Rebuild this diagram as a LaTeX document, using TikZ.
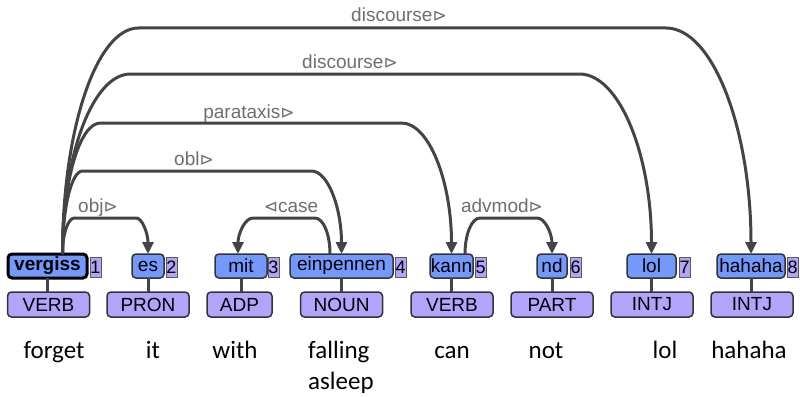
\documentclass[tikz,border=0pt]{standalone}
\usepackage{fontspec}
\setmainfont{Liberation Sans}
\newfontfamily\glossfont{Carlito}
\newfontfamily\trifont{DejaVu Sans}
\usetikzlibrary{arrows.meta}
\definecolor{wordblue}{RGB}{115,153,252}
\definecolor{posfill}{RGB}{178,164,250}
\definecolor{idxfill}{RGB}{178,164,250}
\definecolor{boxborder}{RGB}{51,51,51}
\definecolor{idxborder}{RGB}{90,90,90}
\definecolor{depgray}{RGB}{68,68,68}
\definecolor{labgray}{RGB}{110,110,110}
\newcommand\deprt{{\trifont\fontsize{17}{18}\selectfont ⊳}}
\newcommand\deplt{{\trifont\fontsize{17}{18}\selectfont ⊲}}
\begin{document}
\begin{tikzpicture}[x=1pt,y=1pt,
  wbox/.style={draw=boxborder, line width=1.5pt, fill=wordblue, rounded corners=4pt,
    minimum height=24pt, inner sep=0pt, outer sep=0pt, font=\fontsize{19}{21}\selectfont, text=black},
  headbox/.style={wbox, draw=black, line width=3pt, font=\fontsize{19}{21}\selectfont\bfseries},
  ibox/.style={draw=idxborder, line width=1pt, fill=idxfill, minimum height=20pt, minimum width=11pt,
    inner sep=0pt, outer sep=0pt, font=\fontsize{18}{20}\selectfont, anchor=west},
  pbox/.style={draw=boxborder, line width=1.5pt, fill=posfill, rounded corners=4pt,
    minimum height=25pt, minimum width=82pt, inner sep=0pt, outer sep=0pt, font=\fontsize{19}{21}\selectfont},
  gloss/.style={anchor=base, inner sep=0pt, font=\glossfont\fontsize{25}{30}\selectfont},
  dep/.style={draw=depgray, line width=3pt, -{Triangle[length=12pt,width=11pt]}},
  deplab/.style={anchor=base, inner sep=0pt, text=labgray, font=\fontsize{19}{21}\selectfont},
  link/.style={draw=depgray, line width=3pt}
]
\useasboundingbox (0,0) rectangle (800,-396);

% word boxes
\node[headbox, minimum width=79pt] (w1) at (47.5,-266) {vergiss};
\node[wbox, minimum width=32pt] (w2) at (148,-266) {es};
\node[wbox, minimum width=52pt] (w3) at (241,-266) {mit};
\node[wbox, minimum width=103pt] (w4) at (341.5,-266) {einpennen};
\node[wbox, minimum width=43pt] (w5) at (451.5,-266) {kann};
\node[wbox, minimum width=30pt] (w6) at (552,-266) {nd};
\node[wbox, minimum width=49pt] (w7) at (651.5,-266) {lol};
\node[wbox, minimum width=68pt] (w8) at (751,-266) {hahaha};

% index boxes
\node[ibox] (i1) at ([xshift=3pt]w1.east |- 0,-267) {1};
\node[ibox] (i2) at ([xshift=2pt]w2.east |- 0,-267) {2};
\node[ibox] (i3) at ([xshift=1pt]w3.east |- 0,-267) {3};
\node[ibox] (i4) at ([xshift=2pt]w4.east |- 0,-267) {4};
\node[ibox] (i5) at ([xshift=2pt]w5.east |- 0,-267) {5};
\node[ibox] (i6) at ([xshift=3pt]w6.east |- 0,-267) {6};
\node[ibox] (i7) at ([xshift=3pt]w7.east |- 0,-267) {7};
\node[ibox] (i8) at ([xshift=2pt]w8.east |- 0,-267) {8};

% POS boxes
\node[pbox] (p1) at (48.5,-304.5) {VERB};
\node[pbox] (p2) at (148,-304.5) {PRON};
\node[pbox, minimum width=65pt] (p3) at (239.5,-304.5) {ADP};
\node[pbox] (p4) at (341.5,-304.5) {NOUN};
\node[pbox] (p5) at (452,-304.5) {VERB};
\node[pbox] (p6) at (552,-304.5) {PART};
\node[pbox] (p7) at (652,-304.5) {INTJ};
\node[pbox] (p8) at (752,-304.5) {INTJ};

% word-to-POS links
\foreach \k in {1,...,8}{
  \draw[link] (w\k.south) -- (w\k.south |- p\k.north);
}

% glosses
\node[gloss] (g1) at (54,-358) {forget};
\node[gloss] (g2) at (153,-358) {it};
\node[gloss] (g3) at (235,-358) {with};
\node[gloss, anchor=base west] (g4) at (308,-358) {falling};
\node[gloss, anchor=base west] (g4b) at (308,-389) {asleep};
\node[gloss] (g5) at (452,-358) {can};
\node[gloss] (g6) at (546,-358) {not};
\node[gloss] (g7) at (665,-358) {lol};
\node[gloss] (g8) at (749,-358) {hahaha};

% dependency arcs
% discourse (hahaha)
\draw[dep] ([xshift=15pt]w1.north) arc[start angle=180,end angle=90,x radius=76pt,y radius=226pt]
  -- ([xshift=-85pt]w8.north |- 0,-28) arc[start angle=90,end angle=0,x radius=85pt,y radius=226pt];
% discourse (lol)
\draw[dep] ([xshift=15pt]w1.north) arc[start angle=180,end angle=90,x radius=68pt,y radius=180pt]
  -- ([xshift=-72pt]w7.north |- 0,-74) arc[start angle=90,end angle=0,x radius=72pt,y radius=180pt];
% parataxis
\draw[dep] ([xshift=15pt]w1.north) arc[start angle=180,end angle=90,x radius=38pt,y radius=131pt]
  -- ([xshift=-50pt]w5.north |- 0,-123) arc[start angle=90,end angle=0,x radius=50pt,y radius=131pt];
% obl
\draw[dep] ([xshift=15pt]w1.north) arc[start angle=180,end angle=90,x radius=20pt,y radius=83pt]
  -- ([xshift=-30pt]w4.north |- 0,-171) arc[start angle=90,end angle=0,x radius=30pt,y radius=83pt];
% obj
\draw[dep] ([xshift=15pt]w1.north) arc[start angle=180,end angle=90,x radius=12pt,y radius=36pt]
  -- ([xshift=-12pt]w2.north |- 0,-218) arc[start angle=90,end angle=0,x radius=12pt,y radius=36pt];
% case
\draw[dep] ([xshift=-11.5pt]w4.north) arc[start angle=0,end angle=90,x radius=15pt,y radius=36pt]
  -- ([xshift=12pt]w3.north |- 0,-218) arc[start angle=90,end angle=180,x radius=15pt,y radius=36pt];
% advmod
\draw[dep] ([xshift=13.5pt]w5.north) arc[start angle=180,end angle=90,x radius=15pt,y radius=36pt]
  -- ([xshift=-15pt]w6.north |- 0,-218) arc[start angle=90,end angle=0,x radius=15pt,y radius=36pt];

% arc labels
\node[deplab] (l1) at (399,-22) {discourse\deprt};
\node[deplab] (l2) at (350,-68) {discourse\deprt};
\node[deplab] (l3) at (249,-118) {parataxis\deprt};
\node[deplab] (l4) at (194,-165) {obl\deprt};
\node[deplab] (l5) at (98,-212) {obj\deprt};
\node[deplab] (l6) at (291,-212) {\deplt case};
\node[deplab] (l7) at (502,-212) {advmod\deprt};
\end{tikzpicture}
\end{document}
